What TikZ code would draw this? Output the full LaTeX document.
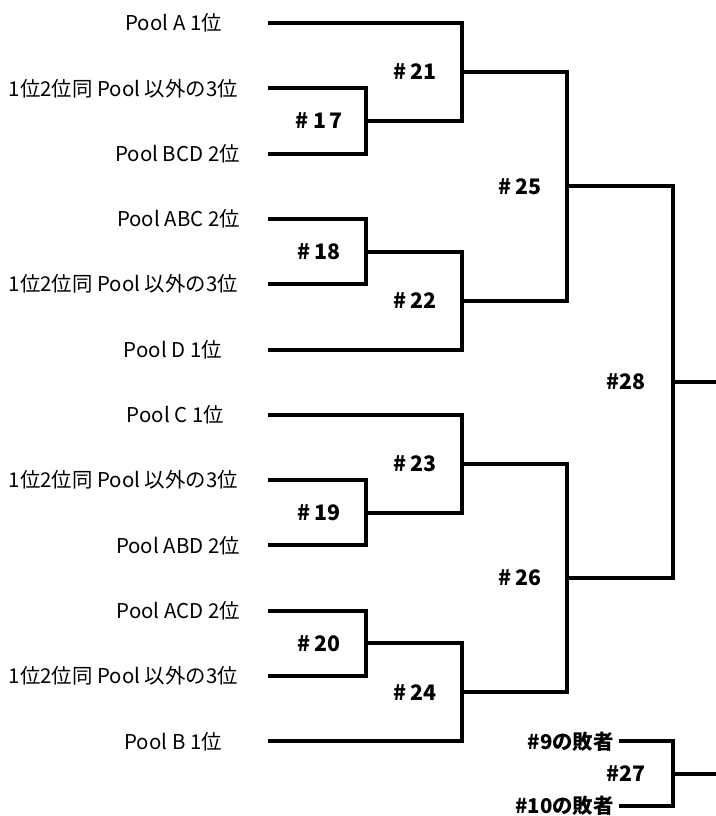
\documentclass[tikz,border=0pt]{standalone}
\usepackage{fontspec}
\setmainfont{Noto Sans CJK JP}
\begin{document}
\begin{tikzpicture}[x=0.75pt,y=-0.75pt,
    entry/.style = {anchor=east,inner sep=0pt,font=\fontsize{15.3}{18}\selectfont},
    match/.style = {inner sep=0pt,font=\bfseries\fontsize{16}{19}\selectfont},
    wire/.style  = {line width=3pt}]
\useasboundingbox (0,0) rectangle (716,816);
% entries of the first round
\foreach \t/\x [count=\j] in {Pool A 1位/222, 1位2位同 Pool 以外の3位/238, Pool BCD 2位/240,
    Pool ABC 2位/240, 1位2位同 Pool 以外の3位/238, Pool D 1位/222,
    Pool C 1位/224, 1位2位同 Pool 以外の3位/238, Pool ABD 2位/240,
    Pool ACD 2位/240, 1位2位同 Pool 以外の3位/238, Pool B 1位/222}
{
    \node[entry] (e\j) at (\x, {23+65.3*(\j-1)}) {\t};
    \coordinate (s\j) at (268, {23+65.3*(\j-1)});
}
% match points and their numbers
\foreach \n/\x/\y/\t in {17/366/121/{\# 1\hspace{2pt}7}, 18/366/251.6/{\#\,18},
    19/366/512.8/{\#\,19}, 20/366/643.4/{\#\,20},
    21/462/72/{\#\,21}, 22/462/300.5/{\#\,22}, 23/462/463.8/{\#\,23}, 24/462/692.3/{\#\,24},
    25/567/186.3/{\#\,25}, 26/567/578/{\#\,26}, 28/673/382.2/{\#28}, 27/673/773.5/{\#27}}
{
    \coordinate (m\n) at (\x, \y);
    \node[match] (g\n) at ({\x-47}, \y) {\t};
}
% third place match
\node[entry,font=\bfseries\fontsize{15.3}{18}\selectfont] (l9)  at (614, 741.3) {\#9の敗者};
\node[entry,font=\bfseries\fontsize{15.3}{18}\selectfont] (l10) at (614, 806) {\#10の敗者};
\coordinate (t9)  at (619, 741.3);
\coordinate (t10) at (619, 806);
\coordinate (w28) at (716, 382.2);
\coordinate (w27) at (716, 773.5);
% brackets
\draw[wire] (s2) -| (m17) |- (s3);
\draw[wire] (s4) -| (m18) |- (s5);
\draw[wire] (s8) -| (m19) |- (s9);
\draw[wire] (s10) -| (m20) |- (s11);
\draw[wire] (s1) -| (m21) |- (m17);
\draw[wire] (m18) -| (m22) |- (s6);
\draw[wire] (s7) -| (m23) |- (m19);
\draw[wire] (m20) -| (m24) |- (s12);
\draw[wire] (m21) -| (m25) |- (m22);
\draw[wire] (m23) -| (m26) |- (m24);
\draw[wire] (m25) -| (m28) |- (m26);
\draw[wire] (m28) -- (w28);
\draw[wire] (t9) -| (m27) |- (t10);
\draw[wire] (m27) -- (w27);
\end{tikzpicture}
\end{document}
